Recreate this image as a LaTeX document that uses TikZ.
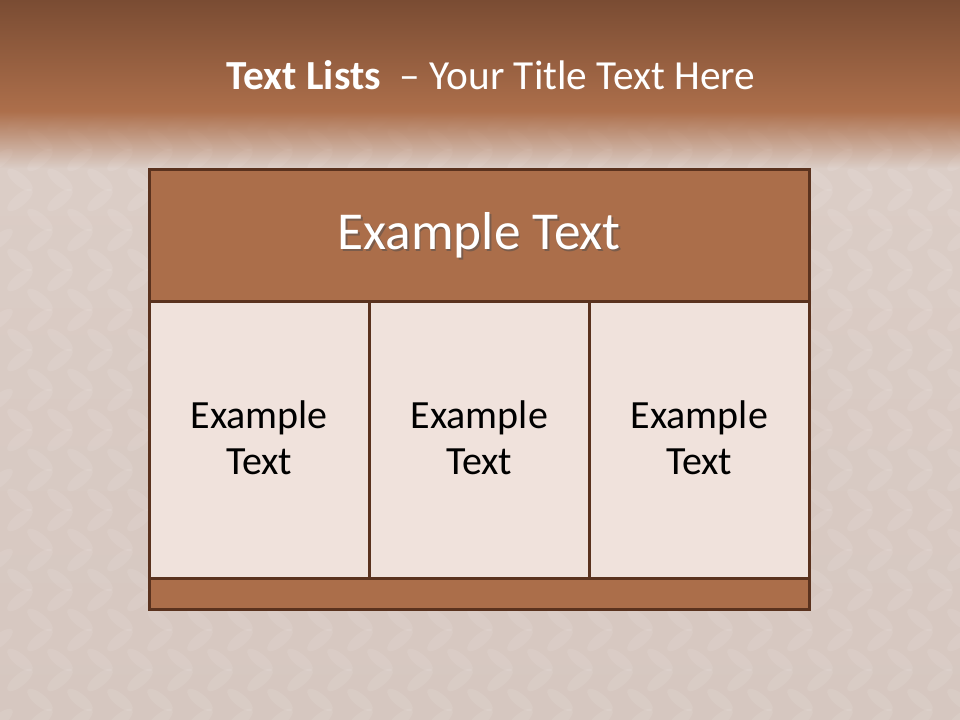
\documentclass[tikz,border=0pt]{standalone}
\usepackage{fontspec}
\usetikzlibrary{fadings}
\setmainfont{Carlito}
\definecolor{bandtop}{HTML}{7A4C33}
\definecolor{bandmid}{HTML}{AD6F4B}
\definecolor{bgpale}{HTML}{DBCDC6}
\definecolor{bglow}{HTML}{D6C7C0}
\definecolor{headfill}{HTML}{AB6E4A}
\definecolor{cellfill}{HTML}{F0E2DC}
\definecolor{edge}{HTML}{5A321E}
\tikzset{
  boxbase/.style={draw=edge, line width=1.9pt, inner sep=0pt, anchor=north west},
  headbox/.style={boxbase, fill=headfill, minimum width=495pt, minimum height=99pt},
  cellbox/.style={boxbase, fill=cellfill, minimum width=165pt, minimum height=207.75pt},
  footbox/.style={boxbase, fill=headfill, minimum width=495pt, minimum height=23.25pt},
  celltext/.style={font=\fontsize{30}{34}\selectfont, text=black, align=center},
  headtext/.style={font=\fontsize{40}{44}\selectfont, text=white},
  plate/.style={fill=white, opacity=0.09},
}
\begin{document}
\begin{tikzpicture}[x=0.75pt,y=-0.75pt]
\useasboundingbox (0,0) rectangle (960,720);
% background
\fill[bgpale] (0,0) rectangle (960,720);
\shade[top color=bgpale, bottom color=bglow] (0,170) rectangle (960,720);
% diamond plate texture
\foreach \i in {0,...,24} {
  \foreach \j in {2,...,18} {
    \pgfmathsetmacro{\px}{\i*40+mod(\j,2)*20}
    \pgfmathsetmacro{\py}{\j*40}
    \fill[plate, rotate around={40:(\px,\py)}] (\px,\py) ellipse [x radius=12pt, y radius=4.5pt];
    \fill[plate, rotate around={-40:(\px+20,\py+20)}] (\px+20,\py+20) ellipse [x radius=12pt, y radius=4.5pt];
  }
}
\shade[top color=bandtop, bottom color=bandmid] (0,0) rectangle (960,112);
\fill[bandmid, path fading=south] (0,111) rectangle (960,168);
% title
\node[text=white, font=\fontsize{31}{35}\selectfont] (title) at (491,75)
  {\textbf{Text Lists}\ \ – Your Title Text Here};
% table
\node[headbox] (header) at (148,168) {};
\node[cellbox] (c1) at (148,300) {};
\node[cellbox] (c2) at (368,300) {};
\node[cellbox] (c3) at (588,300) {};
\node[footbox] (footer) at (148,577) {};
% texts
\node[headtext, text=black!70, opacity=0.5] (hshadow) at ([xshift=1.2pt,yshift=-1.2pt]header.center) {Example Text};
\node[headtext] (htext) at (header.center) {Example Text};
\node[celltext] (t1) at ([yshift=1.5pt]c1.center) {Example\\Text};
\node[celltext] (t2) at ([yshift=1.5pt]c2.center) {Example\\Text};
\node[celltext] (t3) at ([yshift=1.5pt]c3.center) {Example\\Text};
\end{tikzpicture}
\end{document}
